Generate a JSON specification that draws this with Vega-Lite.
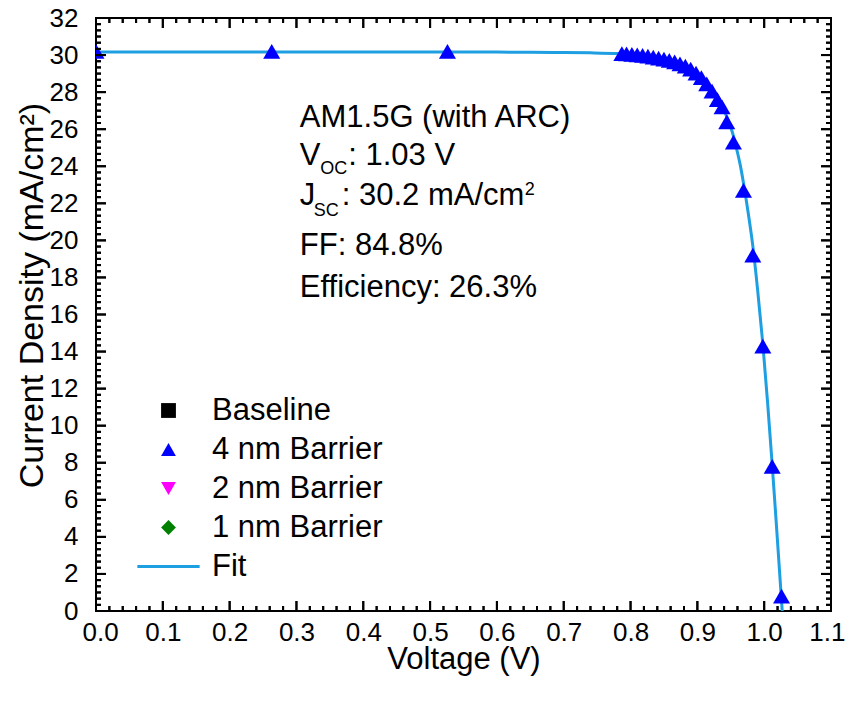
{
  "$schema": "https://vega.github.io/schema/vega-lite/v6.json",
  "autosize": {"type": "none"},
  "padding": {"left": 96, "top": 18, "right": 15, "bottom": 90},
  "width": 735,
  "height": 593,
  "background": "white",
  "config": {
    "view": {"stroke": "black", "strokeWidth": 2},
    "axis": {
      "grid": false,
      "domain": false,
      "labelColor": "black",
      "titleColor": "black",
      "titleFontWeight": "normal",
      "labelFont": "Liberation Sans",
      "titleFont": "Liberation Sans",
      "labelOverlap": false,
      "labelBound": false
    }
  },
  "datasets": {
    "fit": [
      {"V": 0, "J": 30.17}, {"V": 0.1, "J": 30.17}, {"V": 0.2, "J": 30.17}, {"V": 0.3, "J": 30.17},
      {"V": 0.4, "J": 30.17}, {"V": 0.5, "J": 30.17}, {"V": 0.6, "J": 30.16}, {"V": 0.65, "J": 30.15},
      {"V": 0.7, "J": 30.14}, {"V": 0.74, "J": 30.12}, {"V": 0.78, "J": 30.08}, {"V": 0.8, "J": 30.04},
      {"V": 0.82, "J": 29.97}, {"V": 0.84, "J": 29.86}, {"V": 0.86, "J": 29.7}, {"V": 0.874, "J": 29.55},
      {"V": 0.89, "J": 29.25}, {"V": 0.904, "J": 28.86}, {"V": 0.915, "J": 28.4}, {"V": 0.924, "J": 27.97},
      {"V": 0.932, "J": 27.5}, {"V": 0.939, "J": 27.06}, {"V": 0.945, "J": 26.6}, {"V": 0.951, "J": 26.0},
      {"V": 0.955, "J": 25.5}, {"V": 0.959, "J": 24.9}, {"V": 0.964, "J": 24.1}, {"V": 0.969, "J": 23.1},
      {"V": 0.976, "J": 21.5}, {"V": 0.983, "J": 19.7}, {"V": 0.99, "J": 17.4}, {"V": 0.998, "J": 14.4},
      {"V": 1.005, "J": 11.3}, {"V": 1.012, "J": 7.9}, {"V": 1.018, "J": 4.8}, {"V": 1.024, "J": 1.6},
      {"V": 1.027, "J": 0}
    ],
    "pts": [
      {"S": "4 nm Barrier", "V": 0, "J": 30.2},
      {"S": "4 nm Barrier", "V": 0.263, "J": 30.2},
      {"S": "4 nm Barrier", "V": 0.526, "J": 30.2},
      {"S": "4 nm Barrier", "V": 0.787, "J": 30.08},
      {"S": "4 nm Barrier", "V": 0.794, "J": 30.06},
      {"S": "4 nm Barrier", "V": 0.802, "J": 30.04},
      {"S": "4 nm Barrier", "V": 0.81, "J": 30.01},
      {"S": "4 nm Barrier", "V": 0.818, "J": 29.98},
      {"S": "4 nm Barrier", "V": 0.826, "J": 29.94},
      {"S": "4 nm Barrier", "V": 0.834, "J": 29.89},
      {"S": "4 nm Barrier", "V": 0.842, "J": 29.84},
      {"S": "4 nm Barrier", "V": 0.85, "J": 29.78},
      {"S": "4 nm Barrier", "V": 0.858, "J": 29.71},
      {"S": "4 nm Barrier", "V": 0.866, "J": 29.63},
      {"S": "4 nm Barrier", "V": 0.874, "J": 29.53},
      {"S": "4 nm Barrier", "V": 0.882, "J": 29.4},
      {"S": "4 nm Barrier", "V": 0.89, "J": 29.24},
      {"S": "4 nm Barrier", "V": 0.898, "J": 29.03},
      {"S": "4 nm Barrier", "V": 0.906, "J": 28.78},
      {"S": "4 nm Barrier", "V": 0.914, "J": 28.45},
      {"S": "4 nm Barrier", "V": 0.922, "J": 28.06},
      {"S": "4 nm Barrier", "V": 0.93, "J": 27.6},
      {"S": "4 nm Barrier", "V": 0.937, "J": 27.2},
      {"S": "4 nm Barrier", "V": 0.944, "J": 26.4},
      {"S": "4 nm Barrier", "V": 0.954, "J": 25.3},
      {"S": "4 nm Barrier", "V": 0.969, "J": 22.7},
      {"S": "4 nm Barrier", "V": 0.983, "J": 19.2},
      {"S": "4 nm Barrier", "V": 0.998, "J": 14.3},
      {"S": "4 nm Barrier", "V": 1.012, "J": 7.8},
      {"S": "4 nm Barrier", "V": 1.026, "J": 0.8}
    ],
    "notes": [
      {"t": "AM1.5G (with ARC)", "V": 0.305, "J": 26.14},
      {"t": "FF: 84.8%", "V": 0.305, "J": 19.21},
      {"t": "Efficiency: 26.3%", "V": 0.305, "J": 16.96}
    ],
    "xmaj": [{"v": 0.1}, {"v": 0.2}, {"v": 0.3}, {"v": 0.4}, {"v": 0.5}, {"v": 0.6}, {"v": 0.7}, {"v": 0.8}, {"v": 0.9}, {"v": 1.0}],
    "xmin": [{"v": 0.02}, {"v": 0.04}, {"v": 0.06}, {"v": 0.08}, {"v": 0.12}, {"v": 0.14}, {"v": 0.16}, {"v": 0.18}, {"v": 0.22}, {"v": 0.24}, {"v": 0.26}, {"v": 0.28}, {"v": 0.32}, {"v": 0.34}, {"v": 0.36}, {"v": 0.38}, {"v": 0.42}, {"v": 0.44}, {"v": 0.46}, {"v": 0.48}, {"v": 0.52}, {"v": 0.54}, {"v": 0.56}, {"v": 0.58}, {"v": 0.62}, {"v": 0.64}, {"v": 0.66}, {"v": 0.68}, {"v": 0.72}, {"v": 0.74}, {"v": 0.76}, {"v": 0.78}, {"v": 0.82}, {"v": 0.84}, {"v": 0.86}, {"v": 0.88}, {"v": 0.92}, {"v": 0.94}, {"v": 0.96}, {"v": 0.98}, {"v": 1.02}, {"v": 1.04}, {"v": 1.06}, {"v": 1.08}],
    "ymaj": [{"v": 2}, {"v": 4}, {"v": 6}, {"v": 8}, {"v": 10}, {"v": 12}, {"v": 14}, {"v": 16}, {"v": 18}, {"v": 20}, {"v": 22}, {"v": 24}, {"v": 26}, {"v": 28}, {"v": 30}],
    "ymin": [{"v": 0.333}, {"v": 0.667}, {"v": 1}, {"v": 1.333}, {"v": 1.667}, {"v": 2.333}, {"v": 2.667}, {"v": 3}, {"v": 3.333}, {"v": 3.667}, {"v": 4.333}, {"v": 4.667}, {"v": 5}, {"v": 5.333}, {"v": 5.667}, {"v": 6.333}, {"v": 6.667}, {"v": 7}, {"v": 7.333}, {"v": 7.667}, {"v": 8.333}, {"v": 8.667}, {"v": 9}, {"v": 9.333}, {"v": 9.667}, {"v": 10.333}, {"v": 10.667}, {"v": 11}, {"v": 11.333}, {"v": 11.667}, {"v": 12.333}, {"v": 12.667}, {"v": 13}, {"v": 13.333}, {"v": 13.667}, {"v": 14.333}, {"v": 14.667}, {"v": 15}, {"v": 15.333}, {"v": 15.667}, {"v": 16.333}, {"v": 16.667}, {"v": 17}, {"v": 17.333}, {"v": 17.667}, {"v": 18.333}, {"v": 18.667}, {"v": 19}, {"v": 19.333}, {"v": 19.667}, {"v": 20.333}, {"v": 20.667}, {"v": 21}, {"v": 21.333}, {"v": 21.667}, {"v": 22.333}, {"v": 22.667}, {"v": 23}, {"v": 23.333}, {"v": 23.667}, {"v": 24.333}, {"v": 24.667}, {"v": 25}, {"v": 25.333}, {"v": 25.667}, {"v": 26.333}, {"v": 26.667}, {"v": 27}, {"v": 27.333}, {"v": 27.667}, {"v": 28.333}, {"v": 28.667}, {"v": 29}, {"v": 29.333}, {"v": 29.667}, {"v": 30.333}, {"v": 30.667}, {"v": 31}, {"v": 31.333}, {"v": 31.667}]
  },
  "layer": [
    {
      "data": {"name": "fit"},
      "mark": {"type": "line", "color": "#1e9fe2", "strokeWidth": 3, "interpolate": "monotone"},
      "encoding": {
        "x": {
          "field": "V", "type": "quantitative",
          "scale": {"domain": [0, 1.1], "nice": false, "zero": false},
          "axis": {
            "orient": "bottom", "values": [0,0.1,0.2,0.3,0.4,0.5,0.6,0.7,0.8,0.9,1,1.1], "format": ".1f",
            "ticks": false, "tickSize": 0, "labelFontSize": 26, "labelPadding": 8,
            "labelFlush": true, "labelFlushOffset": 14,
            "title": "Voltage (V)", "titleFontSize": 31, "titleBaseline": "alphabetic", "titleY": 57
          }
        },
        "y": {
          "field": "J", "type": "quantitative",
          "scale": {"domain": [0, 32], "nice": false, "zero": false},
          "axis": {
            "orient": "left", "values": [0,2,4,6,8,10,12,14,16,18,20,22,24,26,28,30,32], "format": "d",
            "ticks": false, "tickSize": 0, "labelFontSize": 26, "labelPadding": 18, "labelFlush": false,
            "title": "Current Density (mA/cm²)", "titleFontSize": 34, "titleY": 277, "titlePadding": 0
          }
        }
      }
    },
    {
      "data": {"name": "pts"},
      "mark": {"type": "point", "filled": true, "size": 290, "opacity": 1, "clip": true},
      "encoding": {
        "x": {"field": "V", "type": "quantitative", "scale": {"domain": [0, 1.1], "nice": false, "zero": false}, "axis": null},
        "y": {"field": "J", "type": "quantitative", "scale": {"domain": [0, 32], "nice": false, "zero": false}, "axis": null},
        "color": {
          "field": "S", "type": "nominal",
          "scale": {"domain": ["Baseline", "4 nm Barrier", "2 nm Barrier", "1 nm Barrier", "Fit"], "range": ["#000000", "#0000ff", "#ff00ff", "#008000", "#1e9fe2"]},
          "legend": {"title": null, "orient": "none", "legendX": 57, "legendY": 377, "labelFontSize": 31, "labelFont": "Liberation Sans", "labelColor": "black", "symbolSize": 220, "rowPadding": 7, "labelOffset": 28, "symbolStrokeWidth": 0, "labelLimit": 400}
        },
        "shape": {
          "field": "S", "type": "nominal",
          "scale": {"domain": ["Baseline", "4 nm Barrier", "2 nm Barrier", "1 nm Barrier", "Fit"], "range": ["square", "triangle-up", "triangle-down", "diamond", "M-4.2,-0.2H4.2V0.2H-4.2Z"]},
          "legend": {"title": null, "orient": "none", "legendX": 57, "legendY": 377, "labelFontSize": 31, "labelFont": "Liberation Sans", "labelColor": "black", "symbolSize": 220, "rowPadding": 7, "labelOffset": 28, "symbolStrokeWidth": 0, "labelLimit": 400}
        }
      }
    },
    {
      "data": {"name": "notes"},
      "mark": {"type": "text", "align": "left", "baseline": "alphabetic", "fontSize": 31, "font": "Liberation Sans", "color": "black"},
      "encoding": {
        "x": {"field": "V", "type": "quantitative", "scale": {"domain": [0, 1.1], "nice": false, "zero": false}, "axis": null},
        "y": {"field": "J", "type": "quantitative", "scale": {"domain": [0, 32], "nice": false, "zero": false}, "axis": null},
        "text": {"field": "t"}
      }
    },
    {
      "data": {"values": [{"t": "V", "V": 0.305, "J": 24.07}]},
      "mark": {"type": "text", "align": "left", "baseline": "alphabetic", "fontSize": 31, "font": "Liberation Sans", "color": "black"},
      "encoding": {
        "x": {"field": "V", "type": "quantitative", "scale": {"domain": [0, 1.1], "nice": false, "zero": false}, "axis": null},
        "y": {"field": "J", "type": "quantitative", "scale": {"domain": [0, 32], "nice": false, "zero": false}, "axis": null},
        "text": {"field": "t"}
      }
    },
    {
      "data": {"values": [{"t": "OC", "V": 0.305, "J": 24.07}]},
      "mark": {"type": "text", "align": "left", "baseline": "alphabetic", "fontSize": 18, "font": "Liberation Sans", "color": "black", "dx": 20.5, "dy": 9.5},
      "encoding": {
        "x": {"field": "V", "type": "quantitative", "scale": {"domain": [0, 1.1], "nice": false, "zero": false}, "axis": null},
        "y": {"field": "J", "type": "quantitative", "scale": {"domain": [0, 32], "nice": false, "zero": false}, "axis": null},
        "text": {"field": "t"}
      }
    },
    {
      "data": {"values": [{"t": ": 1.03 V", "V": 0.305, "J": 24.07}]},
      "mark": {"type": "text", "align": "left", "baseline": "alphabetic", "fontSize": 31, "font": "Liberation Sans", "color": "black", "dx": 48.5},
      "encoding": {
        "x": {"field": "V", "type": "quantitative", "scale": {"domain": [0, 1.1], "nice": false, "zero": false}, "axis": null},
        "y": {"field": "J", "type": "quantitative", "scale": {"domain": [0, 32], "nice": false, "zero": false}, "axis": null},
        "text": {"field": "t"}
      }
    },
    {
      "data": {"values": [{"t": "J", "V": 0.305, "J": 21.91}]},
      "mark": {"type": "text", "align": "left", "baseline": "alphabetic", "fontSize": 31, "font": "Liberation Sans", "color": "black"},
      "encoding": {
        "x": {"field": "V", "type": "quantitative", "scale": {"domain": [0, 1.1], "nice": false, "zero": false}, "axis": null},
        "y": {"field": "J", "type": "quantitative", "scale": {"domain": [0, 32], "nice": false, "zero": false}, "axis": null},
        "text": {"field": "t"}
      }
    },
    {
      "data": {"values": [{"t": "SC", "V": 0.305, "J": 21.91}]},
      "mark": {"type": "text", "align": "left", "baseline": "alphabetic", "fontSize": 18, "font": "Liberation Sans", "color": "black", "dx": 14, "dy": 11},
      "encoding": {
        "x": {"field": "V", "type": "quantitative", "scale": {"domain": [0, 1.1], "nice": false, "zero": false}, "axis": null},
        "y": {"field": "J", "type": "quantitative", "scale": {"domain": [0, 32], "nice": false, "zero": false}, "axis": null},
        "text": {"field": "t"}
      }
    },
    {
      "data": {"values": [{"t": ": 30.2 mA/cm", "V": 0.305, "J": 21.91}]},
      "mark": {"type": "text", "align": "left", "baseline": "alphabetic", "fontSize": 31, "font": "Liberation Sans", "color": "black", "dx": 42},
      "encoding": {
        "x": {"field": "V", "type": "quantitative", "scale": {"domain": [0, 1.1], "nice": false, "zero": false}, "axis": null},
        "y": {"field": "J", "type": "quantitative", "scale": {"domain": [0, 32], "nice": false, "zero": false}, "axis": null},
        "text": {"field": "t"}
      }
    },
    {
      "data": {"values": [{"t": "2", "V": 0.305, "J": 21.91}]},
      "mark": {"type": "text", "align": "left", "baseline": "alphabetic", "fontSize": 18, "font": "Liberation Sans", "color": "black", "dx": 225, "dy": -10},
      "encoding": {
        "x": {"field": "V", "type": "quantitative", "scale": {"domain": [0, 1.1], "nice": false, "zero": false}, "axis": null},
        "y": {"field": "J", "type": "quantitative", "scale": {"domain": [0, 32], "nice": false, "zero": false}, "axis": null},
        "text": {"field": "t"}
      }
    },
    {
      "data": {"name": "xmaj"},
      "mark": {"type": "rule", "color": "black", "strokeWidth": 2, "opacity": 1},
      "encoding": {
        "x": {"field": "v", "type": "quantitative", "scale": {"domain": [0, 1.1], "nice": false, "zero": false}, "axis": null},
        "y": {"datum": 0, "type": "quantitative", "scale": {"domain": [0, 32], "nice": false, "zero": false}, "axis": null},
        "y2": {"datum": 0.54}
      }
    },
    {
      "data": {"name": "xmaj"},
      "mark": {"type": "rule", "color": "black", "strokeWidth": 2, "opacity": 1},
      "encoding": {
        "x": {"field": "v", "type": "quantitative", "scale": {"domain": [0, 1.1], "nice": false, "zero": false}, "axis": null},
        "y": {"datum": 32, "type": "quantitative", "scale": {"domain": [0, 32], "nice": false, "zero": false}, "axis": null},
        "y2": {"datum": 31.46}
      }
    },
    {
      "data": {"name": "xmin"},
      "mark": {"type": "rule", "color": "black", "strokeWidth": 2, "opacity": 1},
      "encoding": {
        "x": {"field": "v", "type": "quantitative", "scale": {"domain": [0, 1.1], "nice": false, "zero": false}, "axis": null},
        "y": {"datum": 0, "type": "quantitative", "scale": {"domain": [0, 32], "nice": false, "zero": false}, "axis": null},
        "y2": {"datum": 0.27}
      }
    },
    {
      "data": {"name": "xmin"},
      "mark": {"type": "rule", "color": "black", "strokeWidth": 2, "opacity": 1},
      "encoding": {
        "x": {"field": "v", "type": "quantitative", "scale": {"domain": [0, 1.1], "nice": false, "zero": false}, "axis": null},
        "y": {"datum": 32, "type": "quantitative", "scale": {"domain": [0, 32], "nice": false, "zero": false}, "axis": null},
        "y2": {"datum": 31.73}
      }
    },
    {
      "data": {"name": "ymaj"},
      "mark": {"type": "rule", "color": "black", "strokeWidth": 2, "opacity": 1},
      "encoding": {
        "y": {"field": "v", "type": "quantitative", "scale": {"domain": [0, 32], "nice": false, "zero": false}, "axis": null},
        "x": {"datum": 0, "type": "quantitative", "scale": {"domain": [0, 1.1], "nice": false, "zero": false}, "axis": null},
        "x2": {"datum": 0.015}
      }
    },
    {
      "data": {"name": "ymaj"},
      "mark": {"type": "rule", "color": "black", "strokeWidth": 2, "opacity": 1},
      "encoding": {
        "y": {"field": "v", "type": "quantitative", "scale": {"domain": [0, 32], "nice": false, "zero": false}, "axis": null},
        "x": {"datum": 1.1, "type": "quantitative", "scale": {"domain": [0, 1.1], "nice": false, "zero": false}, "axis": null},
        "x2": {"datum": 1.085}
      }
    },
    {
      "data": {"name": "ymin"},
      "mark": {"type": "rule", "color": "black", "strokeWidth": 2, "opacity": 1},
      "encoding": {
        "y": {"field": "v", "type": "quantitative", "scale": {"domain": [0, 32], "nice": false, "zero": false}, "axis": null},
        "x": {"datum": 0, "type": "quantitative", "scale": {"domain": [0, 1.1], "nice": false, "zero": false}, "axis": null},
        "x2": {"datum": 0.0075}
      }
    },
    {
      "data": {"name": "ymin"},
      "mark": {"type": "rule", "color": "black", "strokeWidth": 2, "opacity": 1},
      "encoding": {
        "y": {"field": "v", "type": "quantitative", "scale": {"domain": [0, 32], "nice": false, "zero": false}, "axis": null},
        "x": {"datum": 1.1, "type": "quantitative", "scale": {"domain": [0, 1.1], "nice": false, "zero": false}, "axis": null},
        "x2": {"datum": 1.0925}
      }
    },
    {
      "data": {"name": "xmaj"},
      "mark": {"type": "point", "filled": false, "color": "black", "strokeWidth": 2, "opacity": 1, "size": 100, "shape": "M0,0V-2"},
      "encoding": {
        "x": {"field": "v", "type": "quantitative", "scale": {"domain": [0, 1.1], "nice": false, "zero": false}, "axis": null},
        "y": {"datum": 0, "type": "quantitative", "scale": {"domain": [0, 32], "nice": false, "zero": false}, "axis": null}
      }
    },
    {
      "data": {"name": "xmaj"},
      "mark": {"type": "point", "filled": false, "color": "black", "strokeWidth": 2, "opacity": 1, "size": 100, "shape": "M0,0V2"},
      "encoding": {
        "x": {"field": "v", "type": "quantitative", "scale": {"domain": [0, 1.1], "nice": false, "zero": false}, "axis": null},
        "y": {"datum": 32, "type": "quantitative", "scale": {"domain": [0, 32], "nice": false, "zero": false}, "axis": null}
      }
    },
    {
      "data": {"name": "xmin"},
      "mark": {"type": "point", "filled": false, "color": "black", "strokeWidth": 2, "opacity": 1, "size": 25, "shape": "M0,0V-2"},
      "encoding": {
        "x": {"field": "v", "type": "quantitative", "scale": {"domain": [0, 1.1], "nice": false, "zero": false}, "axis": null},
        "y": {"datum": 0, "type": "quantitative", "scale": {"domain": [0, 32], "nice": false, "zero": false}, "axis": null}
      }
    },
    {
      "data": {"name": "xmin"},
      "mark": {"type": "point", "filled": false, "color": "black", "strokeWidth": 2, "opacity": 1, "size": 25, "shape": "M0,0V2"},
      "encoding": {
        "x": {"field": "v", "type": "quantitative", "scale": {"domain": [0, 1.1], "nice": false, "zero": false}, "axis": null},
        "y": {"datum": 32, "type": "quantitative", "scale": {"domain": [0, 32], "nice": false, "zero": false}, "axis": null}
      }
    },
    {
      "data": {"name": "ymaj"},
      "mark": {"type": "point", "filled": false, "color": "black", "strokeWidth": 2, "opacity": 1, "size": 100, "shape": "M0,0H2"},
      "encoding": {
        "y": {"field": "v", "type": "quantitative", "scale": {"domain": [0, 32], "nice": false, "zero": false}, "axis": null},
        "x": {"datum": 0, "type": "quantitative", "scale": {"domain": [0, 1.1], "nice": false, "zero": false}, "axis": null}
      }
    },
    {
      "data": {"name": "ymaj"},
      "mark": {"type": "point", "filled": false, "color": "black", "strokeWidth": 2, "opacity": 1, "size": 100, "shape": "M0,0H-2"},
      "encoding": {
        "y": {"field": "v", "type": "quantitative", "scale": {"domain": [0, 32], "nice": false, "zero": false}, "axis": null},
        "x": {"datum": 1.1, "type": "quantitative", "scale": {"domain": [0, 1.1], "nice": false, "zero": false}, "axis": null}
      }
    },
    {
      "data": {"name": "ymin"},
      "mark": {"type": "point", "filled": false, "color": "black", "strokeWidth": 2, "opacity": 1, "size": 25, "shape": "M0,0H2"},
      "encoding": {
        "y": {"field": "v", "type": "quantitative", "scale": {"domain": [0, 32], "nice": false, "zero": false}, "axis": null},
        "x": {"datum": 0, "type": "quantitative", "scale": {"domain": [0, 1.1], "nice": false, "zero": false}, "axis": null}
      }
    },
    {
      "data": {"name": "ymin"},
      "mark": {"type": "point", "filled": false, "color": "black", "strokeWidth": 2, "opacity": 1, "size": 25, "shape": "M0,0H-2"},
      "encoding": {
        "y": {"field": "v", "type": "quantitative", "scale": {"domain": [0, 32], "nice": false, "zero": false}, "axis": null},
        "x": {"datum": 1.1, "type": "quantitative", "scale": {"domain": [0, 1.1], "nice": false, "zero": false}, "axis": null}
      }
    }
  ],
  "resolve": {"axis": {"x": "independent", "y": "independent"}}
}
